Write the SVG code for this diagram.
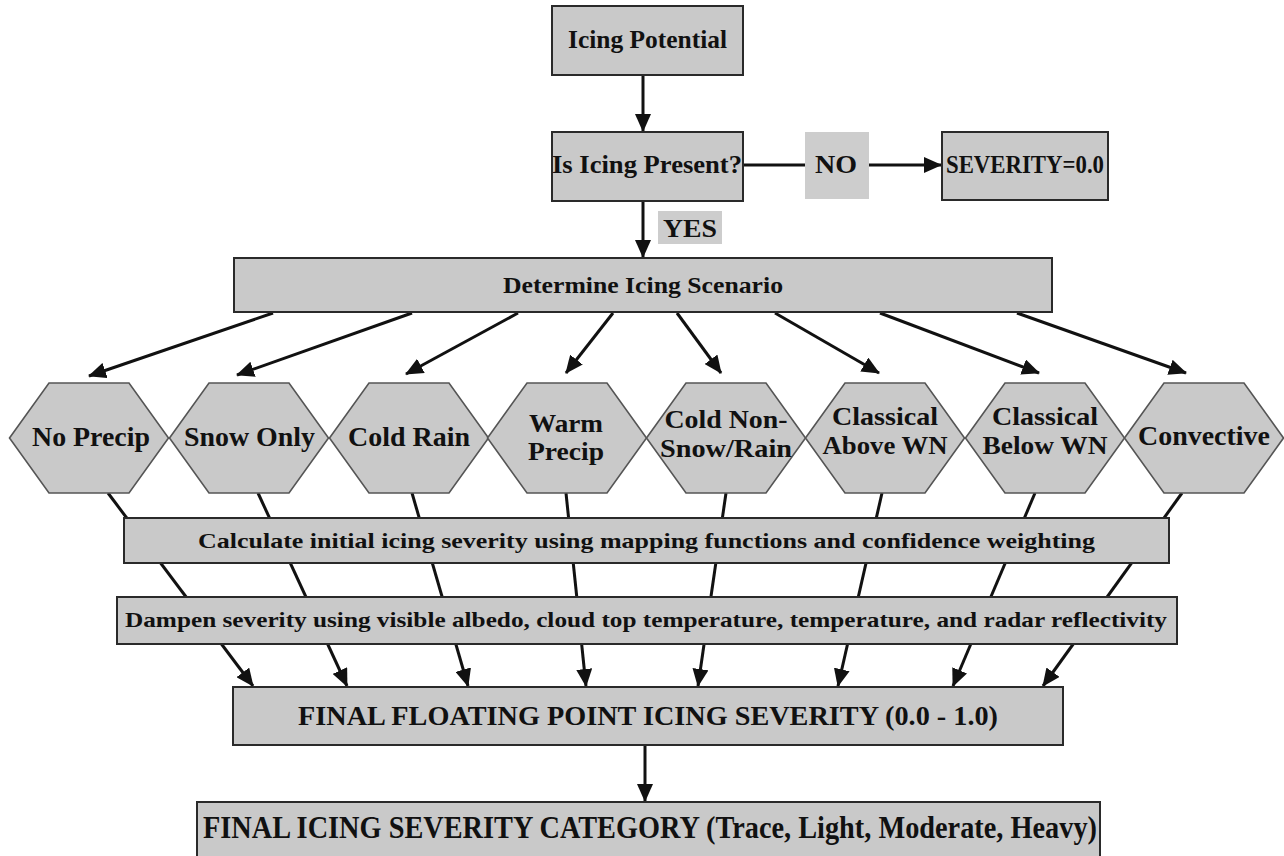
<svg xmlns="http://www.w3.org/2000/svg" width="1284" height="856" viewBox="0 0 1284 856">
<style>
.box{fill:#c9c9c9;stroke:#2a2a2a;stroke-width:2}
.hex{fill:#c9c9c9;stroke:#555;stroke-width:1.6}
.lbl{fill:#cdcdcd;stroke:none}
.t{font-family:'Liberation Serif',Tinos,'Times New Roman',Times,serif;font-weight:700;fill:#111;text-anchor:middle}
.c{fill:none;stroke:#111;stroke-width:3}
.a{marker-end:url(#ah)}
</style>
<defs>
<marker id="ah" viewBox="0 0 18 16" refX="17" refY="8" markerWidth="18" markerHeight="16" markerUnits="userSpaceOnUse" orient="auto">
<path d="M0,0 L18,8 L0,16 z" fill="#111"/>
</marker>
</defs>
<rect width="1284" height="856" fill="#fff"/>
<g id="connectors">
<line class="c a" x1="643" y1="75" x2="643" y2="131"/>
<line class="c" x1="743" y1="165" x2="805" y2="165"/>
<line class="c a" x1="869" y1="165" x2="941" y2="165"/>
<line class="c a" x1="643" y1="201" x2="643" y2="257"/>
<line class="c a" x1="273" y1="313" x2="89" y2="376"/>
<line class="c a" x1="412" y1="313" x2="237" y2="375"/>
<line class="c a" x1="518" y1="313" x2="406" y2="374"/>
<line class="c a" x1="613" y1="313" x2="566" y2="373"/>
<line class="c a" x1="677" y1="313" x2="721" y2="373"/>
<line class="c a" x1="775" y1="313" x2="879" y2="373"/>
<line class="c a" x1="880" y1="313" x2="1039" y2="373"/>
<line class="c a" x1="1017" y1="313" x2="1186" y2="373"/>
<line class="c a" x1="108" y1="493" x2="253" y2="686"/>
<line class="c a" x1="258" y1="493" x2="347" y2="686"/>
<line class="c a" x1="412" y1="493" x2="468" y2="686"/>
<line class="c a" x1="566" y1="493" x2="586" y2="686"/>
<line class="c a" x1="726" y1="493" x2="698" y2="686"/>
<line class="c a" x1="882" y1="493" x2="838" y2="686"/>
<line class="c a" x1="1035" y1="493" x2="953" y2="686"/>
<line class="c a" x1="1182" y1="493" x2="1043" y2="686"/>
<line class="c a" x1="645" y1="745" x2="645" y2="801"/>
</g>
<g id="icing-potential">
<rect class="box" x="552" y="6" width="191" height="69"/>
<text class="t" x="647.5" y="48" font-size="26" textLength="159" lengthAdjust="spacingAndGlyphs">Icing Potential</text>
</g>
<g id="is-icing-present">
<rect class="box" x="552" y="132" width="191" height="69"/>
<text class="t" x="647" y="173" font-size="26" textLength="190" lengthAdjust="spacingAndGlyphs">Is Icing Present?</text>
</g>
<g id="no-label">
<rect class="lbl" x="805" y="132" width="64" height="67"/>
<text class="t" x="836" y="173" font-size="26" textLength="42" lengthAdjust="spacingAndGlyphs">NO</text>
</g>
<g id="severity-zero">
<rect class="box" x="942" y="132" width="166" height="68"/>
<text class="t" x="1025" y="173" font-size="25" textLength="158" lengthAdjust="spacingAndGlyphs">SEVERITY=0.0</text>
</g>
<g id="yes-label">
<rect class="lbl" x="658" y="211" width="64" height="33"/>
<text class="t" x="690" y="237" font-size="26" textLength="54" lengthAdjust="spacingAndGlyphs">YES</text>
</g>
<g id="determine-scenario">
<rect class="box" x="234" y="258" width="818" height="54"/>
<text class="t" x="643" y="293" font-size="24" textLength="280" lengthAdjust="spacingAndGlyphs">Determine Icing Scenario</text>
</g>
<g id="no-precip">
<polygon class="hex" points="9.5,438 49,383 129,383 168.5,438 129,493 49,493"/>
<text class="t" x="91" y="446" font-size="27" textLength="118" lengthAdjust="spacingAndGlyphs">No Precip</text>
</g>
<g id="snow-only">
<polygon class="hex" points="169.5,438 209,383 289,383 328.5,438 289,493 209,493"/>
<text class="t" x="249.5" y="446" font-size="27" textLength="131" lengthAdjust="spacingAndGlyphs">Snow Only</text>
</g>
<g id="cold-rain">
<polygon class="hex" points="329.5,438 369,383 449,383 488.5,438 449,493 369,493"/>
<text class="t" x="409" y="446" font-size="27" textLength="122" lengthAdjust="spacingAndGlyphs">Cold Rain</text>
</g>
<g id="warm-precip">
<polygon class="hex" points="487.5,438 527,383 607,383 646.5,438 607,493 527,493"/>
<text class="t" x="566" y="432" font-size="25" textLength="74" lengthAdjust="spacingAndGlyphs">Warm</text>
<text class="t" x="566" y="460" font-size="25" textLength="76" lengthAdjust="spacingAndGlyphs">Precip</text>
</g>
<g id="cold-non-snow-rain">
<polygon class="hex" points="646.5,438 686,383 766,383 805.5,438 766,493 686,493"/>
<text class="t" x="726" y="428" font-size="25" textLength="123" lengthAdjust="spacingAndGlyphs">Cold Non-</text>
<text class="t" x="726" y="457" font-size="25" textLength="132" lengthAdjust="spacingAndGlyphs">Snow/Rain</text>
</g>
<g id="classical-above-wn">
<polygon class="hex" points="805.5,438 845,383 925,383 964.5,438 925,493 845,493"/>
<text class="t" x="885" y="425" font-size="25" textLength="106" lengthAdjust="spacingAndGlyphs">Classical</text>
<text class="t" x="885" y="454" font-size="25" textLength="125" lengthAdjust="spacingAndGlyphs">Above WN</text>
</g>
<g id="classical-below-wn">
<polygon class="hex" points="965.5,438 1005,383 1085,383 1124.5,438 1085,493 1005,493"/>
<text class="t" x="1045" y="425" font-size="25" textLength="106" lengthAdjust="spacingAndGlyphs">Classical</text>
<text class="t" x="1045" y="454" font-size="25" textLength="125" lengthAdjust="spacingAndGlyphs">Below WN</text>
</g>
<g id="convective">
<polygon class="hex" points="1124.5,438 1164,383 1244,383 1283.5,438 1244,493 1164,493"/>
<text class="t" x="1204" y="445" font-size="27" textLength="132" lengthAdjust="spacingAndGlyphs">Convective</text>
</g>
<g id="calculate-initial">
<rect class="box" x="124" y="518" width="1045" height="45"/>
<text class="t" x="646.5" y="548" font-size="22" textLength="897" lengthAdjust="spacingAndGlyphs">Calculate initial icing severity using mapping functions and confidence weighting</text>
</g>
<g id="dampen-severity">
<rect class="box" x="117" y="597" width="1060" height="47"/>
<text class="t" x="646" y="627" font-size="21" textLength="1042" lengthAdjust="spacingAndGlyphs">Dampen severity using visible albedo, cloud top temperature, temperature, and radar reflectivity</text>
</g>
<g id="final-floating">
<rect class="box" x="233" y="687" width="830" height="58"/>
<text class="t" x="648" y="725" font-size="27" textLength="700" lengthAdjust="spacingAndGlyphs">FINAL FLOATING POINT ICING SEVERITY (0.0 - 1.0)</text>
</g>
<g id="final-category">
<rect class="box" x="197" y="802" width="903" height="60"/>
<text class="t" x="650" y="838" font-size="31" textLength="894" lengthAdjust="spacingAndGlyphs">FINAL ICING SEVERITY CATEGORY (Trace, Light, Moderate, Heavy)</text>
</g>
</svg>
